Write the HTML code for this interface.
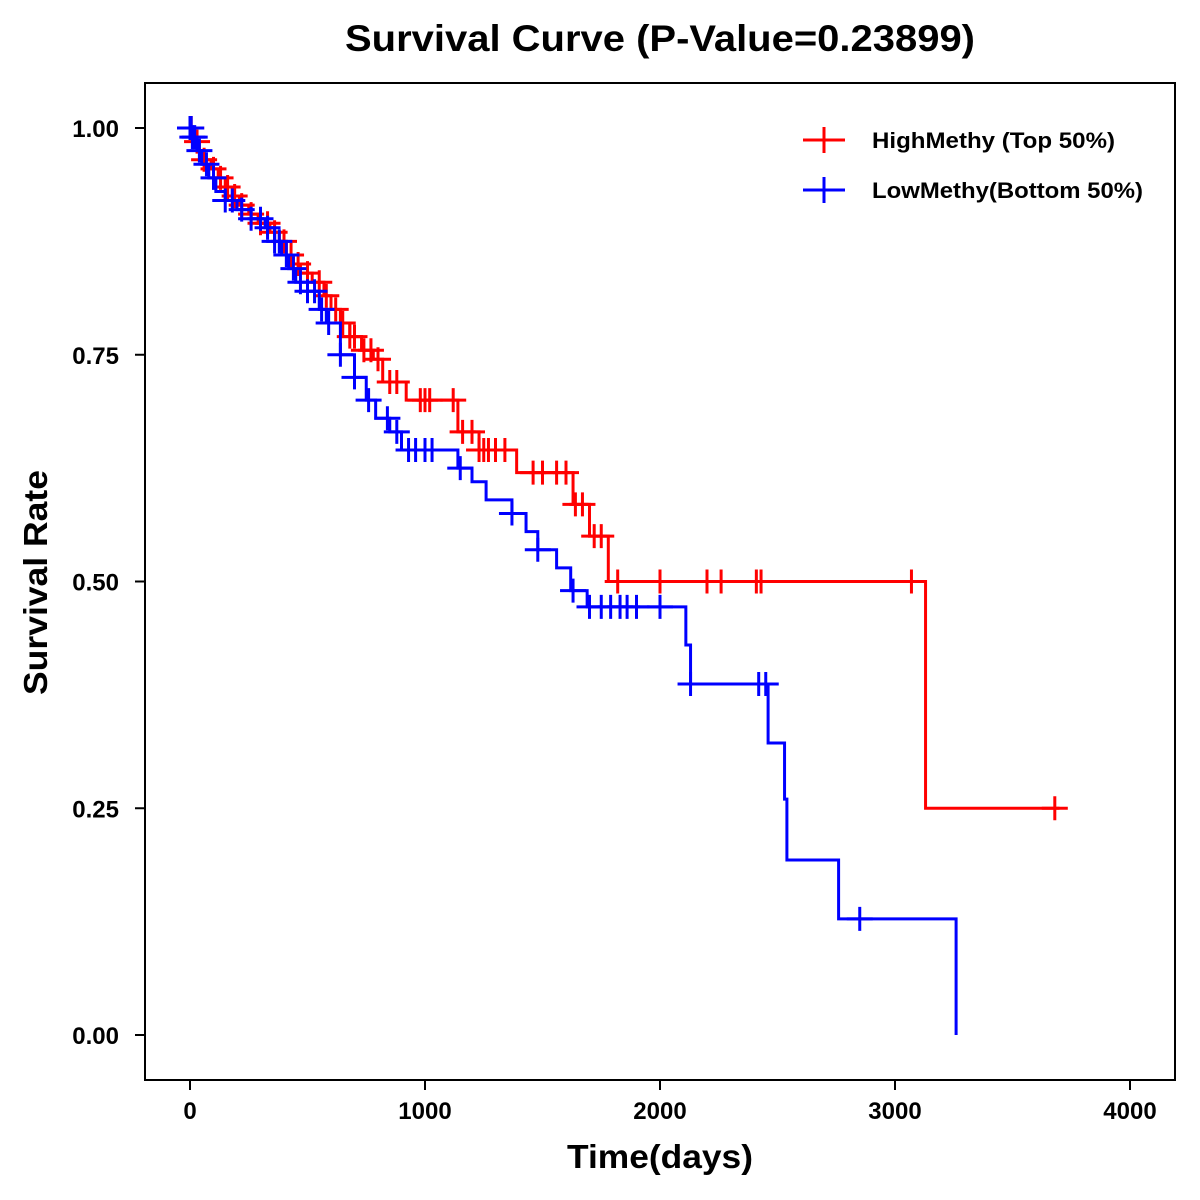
<!DOCTYPE html>
<html><head><meta charset="utf-8"><style>
body{margin:0;background:#fff}
svg{display:block;font-family:"Liberation Sans",Arial,sans-serif}
</style></head><body>
<svg id="chart" width="1200" height="1200" viewBox="0 0 1200 1200">
<rect width="1200" height="1200" fill="#fff"/>
<text x="345" y="51" font-size="37" font-weight="bold" textLength="630" lengthAdjust="spacingAndGlyphs">Survival Curve (P-Value=0.23899)</text>
<rect x="145" y="83" width="1030" height="997" fill="none" stroke="#000" stroke-width="2"/>
<g id="axes"></g>
<g id="series"></g>
<text x="567" y="1168" font-size="33" font-weight="bold" textLength="186" lengthAdjust="spacingAndGlyphs">Time(days)</text>
<text transform="translate(47,695) rotate(-90)" font-size="33" font-weight="bold" textLength="225" lengthAdjust="spacingAndGlyphs">Survival Rate</text>
<g>
<g>
<line x1="803" y1="140" x2="845" y2="140" stroke="#f00" stroke-width="3"/><line x1="824" y1="127" x2="824" y2="153" stroke="#f00" stroke-width="3"/>
<text x="872" y="148" font-size="22" font-weight="bold" textLength="243" lengthAdjust="spacingAndGlyphs">HighMethy (Top 50%)</text></g>
<g>
<line x1="803" y1="190" x2="845" y2="190" stroke="#00f" stroke-width="3"/><line x1="824" y1="177" x2="824" y2="203" stroke="#00f" stroke-width="3"/>
<text x="872" y="198" font-size="22" font-weight="bold" textLength="271" lengthAdjust="spacingAndGlyphs">LowMethy(Bottom 50%)</text></g>
</g>
</svg>
<script>
const xTicks=[0,1000,2000,3000,4000];
const yTicks=[0,0.25,0.5,0.75,1.0];
const yTickLabels=["0.00","0.25","0.50","0.75","1.00"];
const highTimes=[0,20,40,60,90,120,150,180,210,250,290,340,380,410,440,470,520,570,600,640,680,730,780,820,920,1140,1230,1390,1630,1700,1780,3130];
const highSurv=[1,0.985,0.975,0.965,0.955,0.945,0.935,0.925,0.915,0.905,0.895,0.885,0.875,0.86,0.85,0.84,0.83,0.815,0.8,0.785,0.77,0.755,0.745,0.72,0.7,0.665,0.645,0.62,0.585,0.55,0.5,0.25];
const highEnd=3700;
const highCensor=[5,30,60,100,130,160,190,220,260,300,330,360,400,430,460,500,550,580,620,650,680,700,740,770,800,850,880,980,1000,1020,1120,1160,1200,1230,1250,1270,1300,1340,1460,1500,1560,1600,1640,1670,1720,1750,1820,2000,2200,2260,2410,2430,3070,3680];
const lowTimes=[0,10,30,50,80,110,150,200,260,320,360,390,420,450,500,550,580,640,700,750,790,850,900,1140,1200,1260,1370,1430,1480,1560,1620,1690,2110,2130,2460,2530,2540,2760,3260];
const lowSurv=[1,0.99,0.975,0.96,0.945,0.93,0.92,0.91,0.9,0.89,0.875,0.86,0.845,0.83,0.82,0.8,0.785,0.75,0.725,0.7,0.68,0.665,0.645,0.625,0.61,0.59,0.575,0.555,0.535,0.515,0.49,0.472,0.43,0.387,0.322,0.26,0.193,0.128,0];
const lowEnd=3260;
const lowCensor=[0,5,10,20,40,70,100,150,180,220,260,300,330,360,380,410,440,470,500,530,560,590,640,700,760,840,880,930,960,1000,1030,1150,1370,1480,1630,1700,1750,1790,1830,1860,1900,2000,2130,2420,2450,2850];
const X=t=>190+t*0.235, Y=s=>1035-s*907;
const NS="http://www.w3.org/2000/svg";
function mk(tag,attrs,parent){const e=document.createElementNS(NS,tag);for(const k in attrs)e.setAttribute(k,attrs[k]);parent.appendChild(e);return e;}
const ax=document.getElementById('axes');
xTicks.forEach(t=>{
 const l=mk('line',{x1:X(t),x2:X(t),y1:1080,y2:1090,stroke:'#000','stroke-width':2},ax);
 
 
 const tx=mk('text',{x:X(t),y:1119,'text-anchor':'middle','font-size':24,'font-weight':'bold'},ax);tx.textContent=t;
 
 
});
yTicks.forEach((v,i)=>{
 const l=mk('line',{x1:135,x2:145,y1:Y(v),y2:Y(v),stroke:'#000','stroke-width':2},ax);
 
 
 const tx=mk('text',{x:119,y:Y(v)+9,'text-anchor':'end','font-size':24,'font-weight':'bold'},ax);tx.textContent=yTickLabels[i];
 
 
});
const sg=document.getElementById('series');
function survAt(times,surv,t){let s=surv[0];for(let i=0;i<times.length;i++){if(times[i]<=t)s=surv[i];}return s;}
function draw(times,surv,end,cens,color,name){
 let d='M'+X(times[0])+' '+Y(surv[0]);
 for(let i=1;i<times.length;i++){d+=' H'+X(times[i])+' V'+Y(surv[i]);}
 d+=' H'+X(end);
 const p=mk('path',{d:d,fill:'none',stroke:color,'stroke-width':3},sg);
 
 
 cens.forEach(t=>{
  const s=survAt(times,surv,t),cx=X(t),cy=Y(s);
  const g=mk('path',{d:`M${cx-13} ${cy} H${cx+13} M${cx} ${cy-12} V${cy+12}`,stroke:color,'stroke-width':3,fill:'none'},sg);
  
  
 });
}
draw(highTimes,highSurv,highEnd,highCensor,'#f00','high-methy');
draw(lowTimes,lowSurv,lowEnd,lowCensor,'#00f','low-methy');
</script>
</body></html>
